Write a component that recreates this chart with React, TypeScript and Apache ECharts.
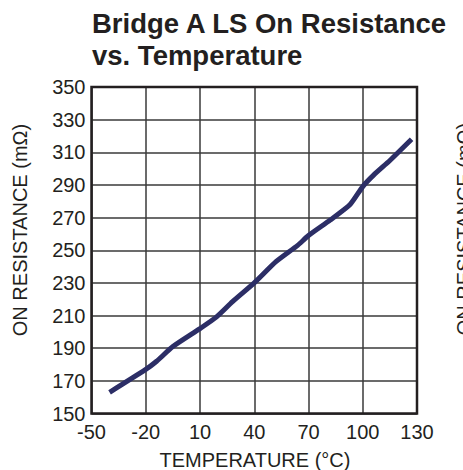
import React, { useEffect, useRef } from "react";
import * as echarts from "echarts";

const temperatures = [-40, -20, -14, -5, 10, 19, 28, 40, 52, 64, 70, 82, 93, 100, 106, 115, 127];
const resistance = [163, 177, 182, 191, 202, 209, 218.5, 230, 243, 253, 259, 268.5, 278, 289, 296, 305, 318];

const titleText = "Bridge A LS On Resistance\nvs. Temperature";
const xAxisName = "TEMPERATURE (°C)";
const yAxisName = "ON RESISTANCE (mΩ)";

const FONT = "'Liberation Sans', Arial, Helvetica, sans-serif";
const TEXT = "#231f20";

export default function App() {
  const ref = useRef<HTMLDivElement>(null);
  useEffect(() => {
    if (!ref.current) return;
    const chart = echarts.init(ref.current, null, { renderer: "svg" });
    chart.setOption({
      animation: false,
      backgroundColor: "#ffffff",
      title: {
        text: titleText,
        left: 92,
        top: 7,
        padding: 0,
        textStyle: {
          fontFamily: FONT,
          fontWeight: "bold",
          fontSize: 27.5,
          lineHeight: 32,
          color: TEXT,
        },
      },
      grid: { left: 91.5, right: 46, top: 87, bottom: 56.5 },
      xAxis: {
        type: "value",
        min: -50,
        max: 130,
        interval: 30,
        axisLine: { show: false },
        axisTick: { show: false },
        axisLabel: { fontFamily: FONT, fontSize: 20, color: TEXT, margin: 8 },
        splitLine: { show: true, lineStyle: { color: "#3a3a3a", width: 1.5 } },
      },
      yAxis: {
        type: "value",
        min: 150,
        max: 350,
        interval: 20,
        axisLine: { show: false },
        axisTick: { show: false },
        axisLabel: { fontFamily: FONT, fontSize: 20, color: TEXT, margin: 6 },
        splitLine: { show: true, lineStyle: { color: "#3a3a3a", width: 1.5 } },
      },
      graphic: [
        {
          type: "rect",
          shape: { x: 91.5, y: 87, width: 325.5, height: 326.5 },
          style: { fill: "none", stroke: "#231f20", lineWidth: 2.5 },
          z: 10,
        },
        {
          type: "text",
          x: 255,
          y: 460,
          style: {
            text: xAxisName,
            fontFamily: FONT,
            fontSize: 20,
            fill: TEXT,
            align: "center",
            verticalAlign: "middle",
          },
        },
        {
          type: "text",
          x: 20,
          y: 230,
          rotation: Math.PI / 2,
          style: {
            text: yAxisName,
            fontFamily: FONT,
            fontSize: 20,
            fill: TEXT,
            align: "center",
            verticalAlign: "middle",
          },
        },
        {
          type: "text",
          x: 464,
          y: 229,
          rotation: Math.PI / 2,
          style: {
            text: yAxisName,
            fontFamily: FONT,
            fontSize: 20,
            fill: TEXT,
            align: "center",
            verticalAlign: "middle",
          },
        },
      ],
      series: [
        {
          type: "line",
          data: temperatures.map((t, i) => [t, resistance[i]]),
          showSymbol: false,
          smooth: 0.2,
          lineStyle: { color: "#2c2e66", width: 5 },
          z: 5,
        },
      ],
    });
    return () => chart.dispose();
  }, []);
  return (
    <div
      ref={ref}
      style={{ position: "fixed", left: 0, top: 0, width: 463, height: 470 }}
    />
  );
}
